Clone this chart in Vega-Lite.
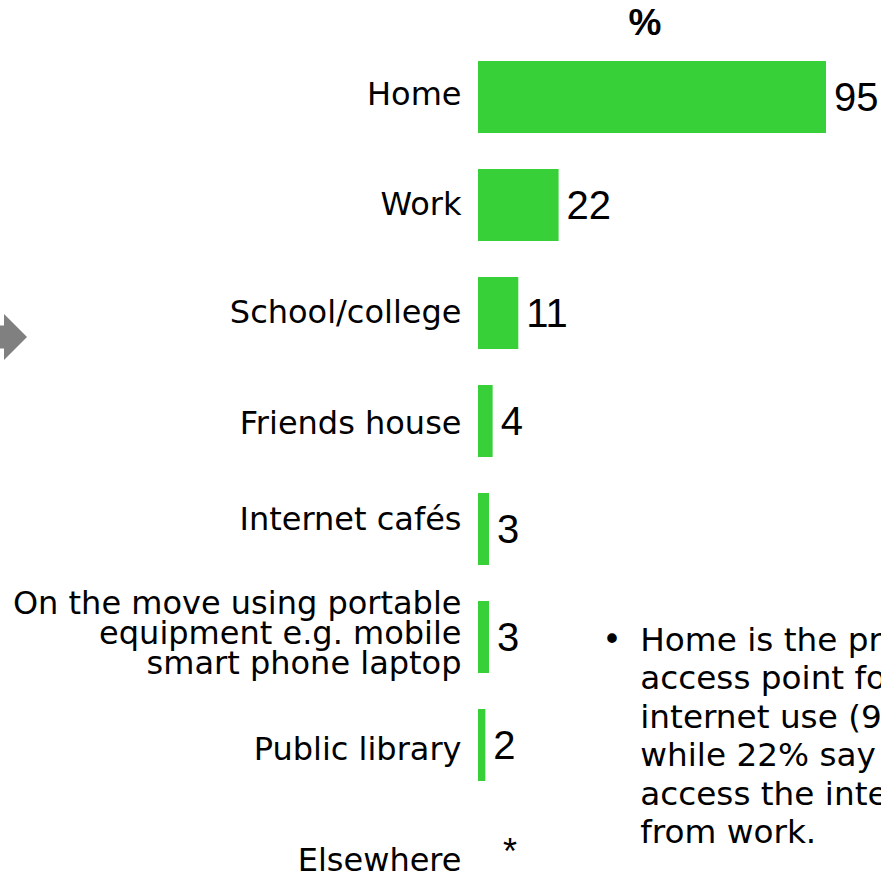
{
  "$schema": "https://vega.github.io/schema/vega-lite/v6.json",
  "width": 400,
  "height": 831,
  "autosize": {"type": "none"},
  "padding": {"left": 478, "top": 43, "right": 3, "bottom": 0},
  "background": "white",
  "config": {"view": {"stroke": null}},
  "title": {"text": "%", "font": "Liberation Sans", "fontSize": 37, "fontWeight": "bold", "color": "#000000", "anchor": "middle", "dx": -33, "dy": 33, "offset": 4, "baseline": "alphabetic"},
  "data": {
    "values": [
      {"place": "Home", "value": 95, "label": "95"},
      {"place": "Work", "value": 22, "label": "22"},
      {"place": "School/college", "value": 11, "label": "11"},
      {"place": "Friends house", "value": 4, "label": "4"},
      {"place": "Internet cafés", "value": 3, "label": "3"},
      {"place": "On the move using portable equipment e.g. mobile smart phone laptop", "value": 3, "label": "3"},
      {"place": "Public library", "value": 2, "label": "2"},
      {"place": "Elsewhere", "value": 0, "label": "*"}
    ]
  },
  "encoding": {
    "y": {
      "field": "place",
      "type": "nominal",
      "sort": null,
      "scale": {"range": [0, 864], "paddingInner": 0.3333, "paddingOuter": 0.1667},
      "axis": {
        "title": null,
        "domain": false,
        "ticks": false,
        "labelPadding": 17,
        "labelFont": "DejaVu Sans",
        "labelFontSize": 32,
        "labelColor": "#000000",
        "labelLimit": 0,
        "labelAlign": "right",
        "labelBaseline": "middle",
        "labelLineHeight": 30,
        "labelOffset": {
          "condition": [
            {"test": "datum.value == 'On the move using portable equipment e.g. mobile smart phone laptop'", "value": -33},
            {"test": "datum.value == 'Internet cafés'", "value": -9},
            {"test": "datum.value == 'Public library'", "value": 5},
            {"test": "datum.value == 'Elsewhere'", "value": 8},
            {"test": "datum.value == 'Home'", "value": -2},
            {"test": "datum.value == 'Friends house'", "value": 3}
          ],
          "value": 0
        },
        "labelExpr": "datum.value == 'On the move using portable equipment e.g. mobile smart phone laptop' ? ['On the move using portable', 'equipment e.g. mobile', 'smart phone laptop'] : datum.label"
      }
    }
  },
  "layer": [
    {
      "mark": {"type": "bar", "color": "#38D038"},
      "encoding": {
        "x": {"field": "value", "type": "quantitative", "scale": {"domain": [0, 109.2], "nice": false, "zero": true}, "axis": null}
      }
    },
    {
      "transform": [{"filter": "datum.label != '*'"}],
      "mark": {"type": "text", "align": "left", "baseline": "middle", "dx": 8, "dy": 2, "font": "Liberation Sans", "fontSize": 40, "color": "#000000"},
      "encoding": {
        "x": {"field": "value", "type": "quantitative"},
        "text": {"field": "label"}
      }
    },
    {
      "transform": [{"filter": "datum.label == '*'"}],
      "mark": {"type": "text", "align": "left", "baseline": "middle", "dx": 25, "dy": 0, "font": "Liberation Sans", "fontSize": 36, "color": "#000000"},
      "encoding": {
        "x": {"field": "value", "type": "quantitative"},
        "text": {"field": "label"}
      }
    },
    {
      "data": {"values": [{"note": "Home is the primary\naccess point for\ninternet use (95%)\nwhile 22% say they\naccess the internet\nfrom work."}]},
      "mark": {"type": "text", "align": "left", "baseline": "alphabetic", "dy": 14, "lineBreak": "\n", "lineHeight": 38.5, "font": "DejaVu Sans", "fontSize": 32.7, "color": "#000000"},
      "encoding": {
        "x": {"datum": 44.3},
        "y": {"datum": "On the move using portable equipment e.g. mobile smart phone laptop"},
        "text": {"field": "note"}
      }
    },
    {
      "data": {"values": [{"bullet": "•"}]},
      "mark": {"type": "text", "align": "center", "baseline": "alphabetic", "dy": 14, "font": "DejaVu Sans", "fontSize": 33, "color": "#000000"},
      "encoding": {
        "x": {"datum": 36.6},
        "y": {"datum": "On the move using portable equipment e.g. mobile smart phone laptop"},
        "text": {"field": "bullet"}
      }
    },
    {
      "data": {"values": [{"decor": "arrow"}]},
      "mark": {"type": "point", "filled": true, "color": "#808080", "opacity": 1, "shape": "M-1,-0.5 L0,-0.5 L0,-1 L1,0 L0,1 L0,0.5 L-1,0.5 Z", "size": 2116},
      "encoding": {
        "x": {"datum": -129.4},
        "y": {"datum": "School/college"},
        "yOffset": {"value": 60}
      }
    }
  ]
}
